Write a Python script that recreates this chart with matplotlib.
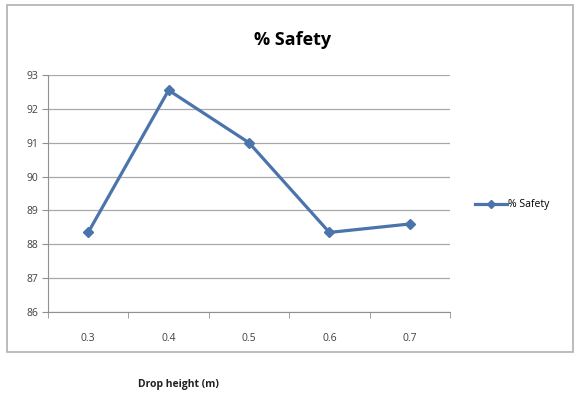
import matplotlib.pyplot as plt
from matplotlib.patches import Rectangle
import numpy as np

CATEGORIES = ["0.3", "0.4", "0.5", "0.6", "0.7"]
SAFETY = [88.35, 92.55, 91.0, 88.35, 88.6]
Y_TICKS = [86, 87, 88, 89, 90, 91, 92, 93]

plt.rcParams['font.family'] = ['Open Sans', 'DejaVu Sans']

W, H = 575, 398
fig = plt.figure(figsize=(W / 100, H / 100), dpi=100)

# outer chart border (Excel style)
fig.patches.append(Rectangle((7 / W, 1 - 352 / H), 566 / W, 347 / H,
                             transform=fig.transFigure, fill=False,
                             edgecolor="#b0b0b0", linewidth=1.2))

ax = fig.add_axes([48 / W, 1 - 312 / H, 402 / W, 237 / H])
x = np.arange(len(CATEGORIES))
ax.plot(x, SAFETY, color="#4a74ab", linewidth=2.3, marker="D",
        markersize=5.5, label="% Safety")

ax.set_xlim(-0.5, len(CATEGORIES) - 0.5)
ax.set_ylim(86, 93)
ax.set_yticks(Y_TICKS)
ax.set_xticks(x)
ax.set_xticklabels(CATEGORIES)
ax.set_xticks(np.arange(-0.5, len(CATEGORIES)), minor=True)
ax.tick_params(axis="x", which="major", length=0, pad=15, labelsize=7.5,
               labelcolor="#404040")
ax.tick_params(axis="x", which="minor", length=4, color="#909090")
ax.tick_params(axis="y", length=4, color="#909090", labelsize=7.5,
               labelcolor="#404040", pad=3)

ax.grid(axis="y", color="#a8a8a8", linewidth=0.9)
ax.set_axisbelow(True)
for side in ["top", "right"]:
    ax.spines[side].set_visible(False)
for side in ["left", "bottom"]:
    ax.spines[side].set_color("#909090")

fig.text(293 / W, 1 - 40 / H, "% Safety", ha="center", va="center",
         fontsize=13, fontweight="bold")
fig.text(178 / W, 1 - 385 / H, "Drop height (m)", ha="center", va="center",
         fontsize=7.5, fontweight="bold", color="#202020")

fig.legend(loc="center left", bbox_to_anchor=(466 / W, 1 - 205 / H),
           frameon=False, fontsize=7.5, handlelength=3.0, handletextpad=0.1,
           markerscale=0.7)

fig.savefig("out.png", dpi=100)
